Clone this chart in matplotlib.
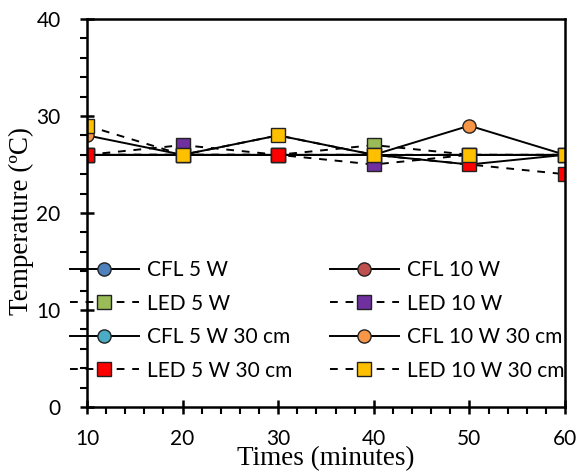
import matplotlib
matplotlib.use("Agg")
import matplotlib.pyplot as plt
from matplotlib.ticker import MultipleLocator

# Sampling times (minutes)
times = [10, 20, 30, 40, 50, 60]

# Temperatures (degC) per lamp configuration
cfl_5w = [26, 26, 26, 26, 26, 26]
cfl_10w = [26, 26, 26, 26, 26, 26]
led_5w = [26, 26, 26, 27, 26, 26]
led_10w = [26, 27, 26, 25, 26, 26]
cfl_5w_30 = [26, 26, 26, 26, 25, 26]
cfl_10w_30 = [28, 26, 28, 26, 29, 26]
led_5w_30 = [26, 26, 26, 26, 25, 24]
led_10w_30 = [29, 26, 28, 26, 26, 26]

labels = ["CFL 5 W", "CFL 10 W", "LED 5 W", "LED 10 W",
          "CFL 5 W 30 cm", "CFL 10 W 30 cm", "LED 5 W 30 cm", "LED 10 W 30 cm"]
series = [cfl_5w, cfl_10w, led_5w, led_10w, cfl_5w_30, cfl_10w_30, led_5w_30, led_10w_30]
colors = ["#4F81BD", "#C0504D", "#9BBB59", "#7030A0",
          "#4BACC6", "#F79646", "#FF0000", "#FFC000"]
markers = ["o", "o", "s", "s", "o", "o", "s", "s"]
styles = ["-", "-", (0, (4, 4)), (0, (4, 4)), "-", "-", (0, (4, 4)), (0, (4, 4))]

fig = plt.figure(figsize=(5.82, 4.72), dpi=100)
ax = fig.add_axes([87 / 582, 1 - 407 / 472, (565 - 87) / 582, (407 - 19) / 472])

handles = []
for vals, lab, c, m, ls in zip(series, labels, colors, markers, styles):
    h, = ax.plot(times, vals, linestyle=ls, color="black", linewidth=1.4,
                 marker=m, markersize=9.5, markerfacecolor=c,
                 markeredgecolor="#222222", markeredgewidth=1.0, label=lab)
    handles.append(h)

ax.set_xlim(10, 60)
ax.set_ylim(0, 40)
ax.xaxis.set_major_locator(MultipleLocator(10))
ax.xaxis.set_minor_locator(MultipleLocator(2))
ax.yaxis.set_major_locator(MultipleLocator(10))
ax.yaxis.set_minor_locator(MultipleLocator(2))

for s in ax.spines.values():
    s.set_linewidth(1.8)
ax.tick_params(axis="x", which="major", direction="inout", length=10, width=1.8,
               pad=11, labelsize=15, labelfontfamily="Lato")
ax.tick_params(axis="y", which="major", direction="inout", length=10, width=1.8,
               pad=14, labelsize=15, labelfontfamily="Lato", right=False)
ax.tick_params(which="minor", direction="out", length=5, width=1.5, right=False)

ax.set_xlabel("Times (minutes)", family="Liberation Serif", fontsize=19.5, labelpad=-2)
ax.set_ylabel("Temperature (\u00baC)", family="Liberation Serif", fontsize=19.5)
ax.yaxis.set_label_coords(-0.11, 0.48)

# row-wise legend order: column 1 gets even items, column 2 odd items
order = [0, 2, 4, 6, 1, 3, 5, 7]
ax.legend([handles[i] for i in order], [labels[i] for i in order],
          ncol=2, frameon=False, loc="upper left",
          bbox_to_anchor=(70 / 582, 1 - 260 / 472), bbox_transform=fig.transFigure,
          prop={"family": "Lato", "size": 15}, handlelength=3.3, handletextpad=0.4,
          columnspacing=1.8, labelspacing=0.65, borderpad=0, borderaxespad=0,
          numpoints=1)

fig.savefig("out.png", dpi=100)
